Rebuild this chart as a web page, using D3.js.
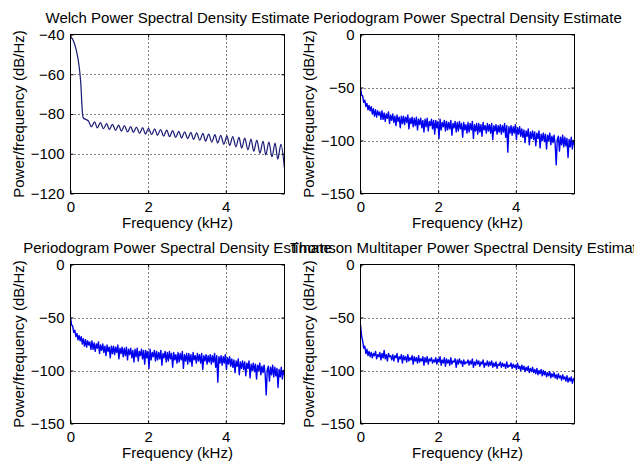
<!DOCTYPE html>
<html>
<head>
<meta charset="utf-8">
<script src="https://cdn.jsdelivr.net/npm/d3@7"></script>
<style>
  html, body { margin: 0; padding: 0; background: #ffffff; }
  svg { display: block; }
  text { font-family: "Liberation Sans", Arial, Helvetica, sans-serif; fill: #000; }
</style>
</head>
<body>
<svg id="chart" width="634" height="464"></svg>
<script>
// ---------------- data ----------------
const nyquistKHz = 5.5125;
const xTicks = [0, 2, 4];
const welchTicks = [-120, -100, -80, -60, -40];
const psdTicks = [-150, -100, -50, 0];
const titles = [
  "Welch Power Spectral Density Estimate",
  "Periodogram Power Spectral Density Estimate",
  "Periodogram Power Spectral Density Estimate",
  "Thomson Multitaper Power Spectral Density Estimate"
];
const xLabel = "Frequency (kHz)";
const yLabel = "Power/frequency (dB/Hz)";

// Welch estimate (kHz, dB/Hz)
const welchFreqKHz = [
  0, 0.05, 0.10, 0.15, 0.20, 0.24, 0.27, 0.29, 0.31, 0.33, 0.40,
  0.46, 0.54, 0.62, 0.69, 0.77, 0.85, 0.93, 1.00, 1.08, 1.16, 1.24, 1.31, 1.39, 1.47, 1.55,
  1.62, 1.70, 1.78, 1.86, 1.93, 2.01, 2.09, 2.17, 2.24, 2.32, 2.40, 2.48, 2.55, 2.63, 2.71,
  2.79, 2.86, 2.94, 3.02, 3.10, 3.17, 3.25, 3.33, 3.41, 3.48, 3.56, 3.64, 3.72, 3.79, 3.87,
  3.95, 4.03, 4.10, 4.18, 4.26, 4.34, 4.41, 4.49, 4.57, 4.65, 4.72, 4.80, 4.88, 4.96, 5.03,
  5.11, 5.19, 5.27, 5.34, 5.42, 5.51
];
const welchDb = [
  -41.3, -42.2, -44.5, -48, -53, -59, -66, -74, -80, -82, -82.8,
  -83.5, -86.4, -84.0, -87.0, -84.4, -87.4, -84.8, -87.8, -85.2, -88.2, -85.6, -88.6, -85.9, -89.0, -86.3,
  -89.3, -86.6, -89.7, -86.9, -90.1, -87.2, -90.4, -87.5, -90.7, -87.8, -91.1, -88.1, -91.4, -88.4, -91.7,
  -88.7, -92.1, -89.0, -92.4, -89.2, -92.8, -89.5, -93.2, -89.8, -93.6, -90.1, -94.1, -90.4, -94.6, -90.7,
  -95.2, -91.0, -95.8, -91.4, -96.5, -91.8, -97.2, -92.2, -98.0, -92.6, -98.8, -93.1, -99.7, -93.6, -100.6,
  -94.1, -101.6, -94.6, -102.7, -95.3, -107.0
];

// Periodogram estimate (dB/Hz), evenly spaced bins from 0 to Nyquist
const periodogramDb = [
  -50, -57, -58, -64, -62, -68, -65, -71, -67, -72,
  -68, -75, -70, -77, -71, -78, -72, -76, -73, -80,
  -72, -80, -74, -82, -75, -79, -73, -84, -76, -81,
  -75, -83, -77, -86, -76, -82, -78, -88, -77, -84,
  -77, -85, -78, -83, -76, -89, -79, -84, -78, -87,
  -79, -86, -78, -90, -80, -85, -79, -88, -81, -92,
  -80, -87, -79, -91, -82, -86, -80, -89, -81, -94,
  -81, -88, -82, -98, -80, -90, -83, -87, -81, -91,
  -82, -90, -83, -89, -81, -95, -84, -88, -82, -92,
  -83, -91, -82, -89, -84, -97, -83, -90, -85, -93,
  -83, -92, -84, -90, -82, -98, -85, -91, -84, -94,
  -84, -92, -85, -96, -83, -90, -86, -93, -84, -91,
  -85, -93, -84, -99, -86, -91, -85, -94, -86, -92,
  -85, -94, -86, -92, -84, -97, -86, -111, -87, -93,
  -86, -95, -87, -93, -85, -99, -88, -94, -87, -96,
  -89, -97, -90, -102, -91, -96, -89, -104, -92, -98,
  -91, -99, -92, -105, -93, -98, -91, -107, -94, -100,
  -93, -101, -94, -108, -95, -100, -93, -104, -96, -102,
  -95, -103, -123, -99, -96, -110, -97, -104, -95, -106,
  -97, -105, -98, -116, -99, -106, -97, -108, -100, -104
];

// Thomson multitaper estimate (dB/Hz), evenly spaced bins from 0 to Nyquist
const multitaperDb = [
  -57, -67, -72, -79, -77, -84, -80, -86, -82, -87,
  -83, -88, -84, -86, -82, -89, -85, -87, -83, -90,
  -84, -88, -81, -89, -85, -91, -84, -87, -86, -90,
  -85, -91, -86, -88, -84, -92, -87, -89, -85, -93,
  -86, -90, -87, -92, -85, -91, -88, -90, -86, -94,
  -87, -91, -88, -93, -86, -92, -89, -91, -87, -95,
  -88, -92, -87, -94, -89, -91, -88, -93, -90, -92,
  -88, -94, -89, -92, -87, -95, -90, -93, -88, -96,
  -89, -93, -90, -95, -88, -94, -91, -92, -89, -97,
  -90, -94, -89, -93, -91, -96, -90, -94, -92, -93,
  -90, -95, -91, -94, -89, -97, -92, -95, -90, -94,
  -91, -96, -92, -94, -90, -97, -93, -95, -91, -96,
  -92, -95, -91, -97, -93, -96, -92, -98, -94, -95,
  -92, -97, -93, -96, -94, -98, -92, -97, -95, -96,
  -93, -98, -94, -97, -95, -99, -93, -98, -96, -100,
  -95, -99, -96, -101, -97, -100, -96, -102, -98, -101,
  -97, -102, -99, -103, -98, -104, -100, -103, -99, -105,
  -100, -104, -101, -106, -102, -105, -101, -107, -103, -106,
  -102, -107, -104, -108, -103, -107, -105, -109, -104, -108,
  -106, -110, -105, -111, -107, -110, -106, -112, -108, -107
];

// ---------------- drawing ----------------
const svg = d3.select("#chart");

function binFreqs(n) {
  return d3.range(n).map(i => i * nyquistKHz / (n - 1));
}

const panels = [
  { left: 70.5, top: 34.5, freqs: welchFreqKHz, vals: welchDb, dom: [-120, -40], ticks: welchTicks, color: "#1e1e78", width: 1.25, title: titles[0] },
  { left: 360.5, top: 34.5, freqs: binFreqs(periodogramDb.length), vals: periodogramDb, dom: [-150, 0], ticks: psdTicks, color: "#0000f0", width: 1.4, title: titles[1] },
  { left: 70.5, top: 264.5, freqs: binFreqs(periodogramDb.length), vals: periodogramDb, dom: [-150, 0], ticks: psdTicks, color: "#0000f0", width: 1.4, title: titles[2] },
  { left: 360.5, top: 264.5, freqs: binFreqs(multitaperDb.length), vals: multitaperDb, dom: [-150, 0], ticks: psdTicks, color: "#0000f0", width: 1.4, title: titles[3] }
];
const W = 214, H = 159;

panels.forEach((p, idx) => {
  const g = svg.append("g");
  const x = d3.scaleLinear().domain([0, nyquistKHz]).range([p.left, p.left + W]);
  const y = d3.scaleLinear().domain(p.dom).range([p.top + H, p.top]);

  g.append("rect").attr("x", p.left).attr("y", p.top).attr("width", W).attr("height", H)
    .attr("fill", "#ffffff");

  // grid
  const gridX = xTicks.filter(t => t > 0);
  const gridY = p.ticks.filter(t => t > p.dom[0] && t < p.dom[1]);
  g.selectAll(".gx").data(gridX).enter().append("line")
    .attr("x1", d => Math.round(x(d)) + 0.5).attr("x2", d => Math.round(x(d)) + 0.5)
    .attr("y1", p.top).attr("y2", p.top + H)
    .attr("stroke", "#000").attr("stroke-width", 1).attr("stroke-dasharray", "1,3");
  g.selectAll(".gy").data(gridY).enter().append("line")
    .attr("y1", d => Math.round(y(d)) + 0.5).attr("y2", d => Math.round(y(d)) + 0.5)
    .attr("x1", p.left).attr("x2", p.left + W)
    .attr("stroke", "#000").attr("stroke-width", 1).attr("stroke-dasharray", "1,3");

  const cid = "clip" + idx;
  svg.append("defs").append("clipPath").attr("id", cid)
    .append("rect").attr("x", p.left).attr("y", p.top).attr("width", W).attr("height", H);

  const line = d3.line().x((d, i) => x(p.freqs[i])).y(d => y(d));
  if (idx === 0) line.curve(d3.curveMonotoneX);
  g.append("path").datum(p.vals)
    .attr("clip-path", "url(#" + cid + ")")
    .attr("d", line).attr("fill", "none")
    .attr("stroke", p.color).attr("stroke-width", p.width).attr("stroke-linejoin", "round");

  const bottom = d3.axisBottom(x).tickValues(xTicks).tickSizeInner(-3).tickSizeOuter(0).tickPadding(6).tickFormat(d3.format("d"));
  const leftAx = d3.axisLeft(y).tickValues(p.ticks).tickSizeInner(-3).tickSizeOuter(0).tickPadding(6).tickFormat(d3.format("d"));
  const topAx = d3.axisTop(x).tickValues(xTicks).tickSizeInner(-3).tickSizeOuter(0).tickFormat("");
  const rightAx = d3.axisRight(y).tickValues(p.ticks).tickSizeInner(-3).tickSizeOuter(0).tickFormat("");

  const styleAxis = sel => {
    sel.select(".domain").remove();
    sel.selectAll("line").attr("stroke", "#000");
    sel.selectAll("text").attr("font-size", "15px").attr("fill", "#000")
      .attr("font-family", "'Liberation Sans', Arial, sans-serif");
  };
  g.append("g").attr("transform", `translate(0,${p.top + H})`).call(bottom).call(styleAxis)
    .selectAll("text").attr("dy", "0.85em");
  g.append("g").attr("transform", `translate(${p.left},0)`).call(leftAx).call(styleAxis);
  g.append("g").attr("transform", `translate(0,${p.top})`).call(topAx).call(styleAxis);
  g.append("g").attr("transform", `translate(${p.left + W},0)`).call(rightAx).call(styleAxis);

  g.append("rect").attr("x", p.left).attr("y", p.top).attr("width", W).attr("height", H)
    .attr("fill", "none").attr("stroke", "#000").attr("stroke-width", 1);

  g.append("text").attr("x", p.left + W / 2).attr("y", p.top + H + 34.5)
    .attr("text-anchor", "middle").attr("font-size", "15px").text(xLabel);
  g.append("text")
    .attr("transform", `translate(${p.left - 51.5},${p.top + H / 2}) rotate(-90)`)
    .attr("dy", "0.35em").attr("text-anchor", "middle").attr("font-size", "15px").text(yLabel);
  g.append("text").attr("x", p.left + W / 2).attr("y", p.top - 12)
    .attr("text-anchor", "middle").attr("font-size", "15px").text(p.title);
});
</script>
</body>
</html>
